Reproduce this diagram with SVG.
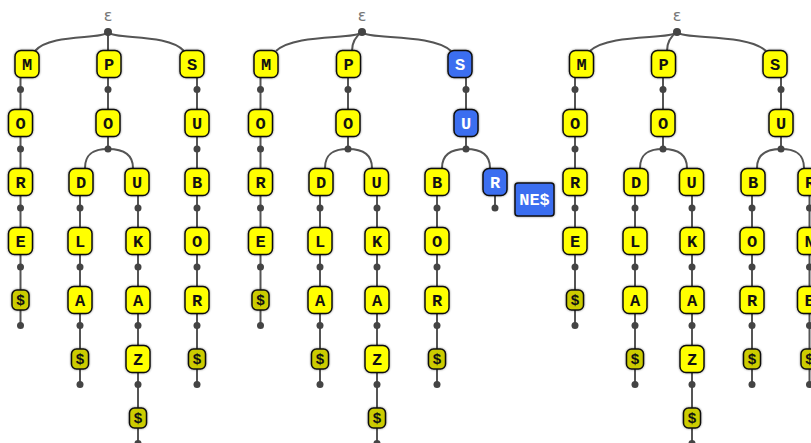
<svg xmlns="http://www.w3.org/2000/svg" width="811" height="443" viewBox="0 0 811 443">
<defs>
<filter id="sh" x="-30%" y="-30%" width="160%" height="160%">
<feDropShadow dx="0" dy="0" stdDeviation="1" flood-color="#000" flood-opacity="0.45"/>
</filter>
</defs>
<style>
.c path{fill:none;stroke:#555;stroke-width:2}
.c circle{fill:#444}
.n rect{fill:#ffff00;stroke:#111;stroke-width:1.5;filter:url(#sh)}
.n.d rect{fill:#cccc00}
.n.b rect{fill:#3b6ef0}
.n text{font-family:"Liberation Mono","Courier New",monospace;font-weight:bold;font-size:17px;text-anchor:middle;fill:#111}
.n.d text{font-size:15px}
.n.b text{fill:#fff}
.eps{font-family:"DejaVu Sans",sans-serif;font-size:16px;fill:#777;text-anchor:middle}
</style>
<rect width="811" height="443" fill="#fff"/>
<g id="connectors" class="c">
<!-- tree 1 -->
<path d="M108,32 C103,40 50,33 35,51"/>
<path d="M108,32 L108,64"/>
<path d="M108,32 C113,40 168,33 184,51"/>
<path d="M20.5,64 V325.5"/>
<path d="M108,64 V149"/>
<path d="M108,149 C96,149 85,152 85,168"/>
<path d="M108,149 C120,149 133,152 133,168"/>
<path d="M80,182 V384.5"/>
<path d="M138,182 V443.5"/>
<path d="M197,64 V384.5"/>
<!-- tree 2 -->
<path d="M362,32 C357,40 295,33 276,51"/>
<path d="M362,32 C356,36 352,42 352,51"/>
<path d="M362,32 C367,40 432,33 451,51"/>
<path d="M260.5,64 V325.5"/>
<path d="M348,64 V149"/>
<path d="M348,149 C336,149 325,152 325,168"/>
<path d="M348,149 C360,149 372,152 372,168"/>
<path d="M320,182 V384.5"/>
<path d="M377,182 V443.5"/>
<path d="M466,64 V149"/>
<path d="M466,149 C454,149 442,152 442,168"/>
<path d="M466,149 C478,149 490,152 490,168"/>
<path d="M437,182 V384.5"/>
<path d="M495,182 V208"/>
<!-- tree 3 -->
<path d="M677,32 C672,40 609,33 590,51"/>
<path d="M677,32 C671,36 667,42 667,51"/>
<path d="M677,32 C682,40 747,33 766,51"/>
<path d="M575,64 V325.5"/>
<path d="M663,64 V149"/>
<path d="M663,149 C651,149 640,152 640,168"/>
<path d="M663,149 C675,149 687,152 687,168"/>
<path d="M635,182 V384.5"/>
<path d="M692,182 V443.5"/>
<path d="M781,64 V149"/>
<path d="M781,149 C769,149 757,152 757,168"/>
<path d="M781,149 C793,149 804,152 804,168"/>
<path d="M752,182 V384.5"/>
<path d="M809.5,182 V384.5"/>
<!-- dots tree 1 -->
<circle cx="108" cy="32" r="4"/>
<circle cx="20.5" cy="89.5" r="3.5"/><circle cx="20.5" cy="149" r="3.5"/><circle cx="20.5" cy="208" r="3.5"/><circle cx="20.5" cy="267" r="3.5"/><circle cx="20.5" cy="325.5" r="3.5"/>
<circle cx="108" cy="89.5" r="3.5"/><circle cx="108" cy="149" r="3.5"/>
<circle cx="80" cy="208" r="3.5"/><circle cx="80" cy="267" r="3.5"/><circle cx="80" cy="325.5" r="3.5"/><circle cx="80" cy="384.5" r="3.5"/>
<circle cx="138" cy="208" r="3.5"/><circle cx="138" cy="267" r="3.5"/><circle cx="138" cy="325.5" r="3.5"/><circle cx="138" cy="384.5" r="3.5"/><circle cx="138" cy="443.5" r="3.5"/>
<circle cx="197" cy="89.5" r="3.5"/><circle cx="197" cy="149" r="3.5"/><circle cx="197" cy="208" r="3.5"/><circle cx="197" cy="267" r="3.5"/><circle cx="197" cy="325.5" r="3.5"/><circle cx="197" cy="384.5" r="3.5"/>
<!-- dots tree 2 -->
<circle cx="362" cy="32" r="4"/>
<circle cx="260.5" cy="89.5" r="3.5"/><circle cx="260.5" cy="149" r="3.5"/><circle cx="260.5" cy="208" r="3.5"/><circle cx="260.5" cy="267" r="3.5"/><circle cx="260.5" cy="325.5" r="3.5"/>
<circle cx="348" cy="89.5" r="3.5"/><circle cx="348" cy="149" r="3.5"/>
<circle cx="320" cy="208" r="3.5"/><circle cx="320" cy="267" r="3.5"/><circle cx="320" cy="325.5" r="3.5"/><circle cx="320" cy="384.5" r="3.5"/>
<circle cx="377" cy="208" r="3.5"/><circle cx="377" cy="267" r="3.5"/><circle cx="377" cy="325.5" r="3.5"/><circle cx="377" cy="384.5" r="3.5"/><circle cx="377" cy="443.5" r="3.5"/>
<circle cx="466" cy="89.5" r="3.5"/><circle cx="466" cy="149" r="3.5"/>
<circle cx="437" cy="208" r="3.5"/><circle cx="437" cy="267" r="3.5"/><circle cx="437" cy="325.5" r="3.5"/><circle cx="437" cy="384.5" r="3.5"/>
<circle cx="495" cy="208" r="3.5"/>
<!-- dots tree 3 -->
<circle cx="677" cy="32" r="4"/>
<circle cx="575" cy="89.5" r="3.5"/><circle cx="575" cy="149" r="3.5"/><circle cx="575" cy="208" r="3.5"/><circle cx="575" cy="267" r="3.5"/><circle cx="575" cy="325.5" r="3.5"/>
<circle cx="663" cy="89.5" r="3.5"/><circle cx="663" cy="149" r="3.5"/>
<circle cx="635" cy="208" r="3.5"/><circle cx="635" cy="267" r="3.5"/><circle cx="635" cy="325.5" r="3.5"/><circle cx="635" cy="384.5" r="3.5"/>
<circle cx="692" cy="208" r="3.5"/><circle cx="692" cy="267" r="3.5"/><circle cx="692" cy="325.5" r="3.5"/><circle cx="692" cy="384.5" r="3.5"/><circle cx="692" cy="443.5" r="3.5"/>
<circle cx="781" cy="89.5" r="3.5"/><circle cx="781" cy="149" r="3.5"/>
<circle cx="752" cy="208" r="3.5"/><circle cx="752" cy="267" r="3.5"/><circle cx="752" cy="325.5" r="3.5"/><circle cx="752" cy="384.5" r="3.5"/>
<circle cx="809.5" cy="208" r="3.5"/><circle cx="809.5" cy="267" r="3.5"/><circle cx="809.5" cy="325.5" r="3.5"/><circle cx="809.5" cy="384.5" r="3.5"/>
</g>
<text class="eps" x="108" y="21">ε</text>
<text class="eps" x="362" y="21">ε</text>
<text class="eps" x="677" y="21">ε</text>
<!-- Tree 1 nodes -->
<g id="t1-M" class="n"><rect x="15" y="50.5" width="24" height="27" rx="6"/><text x="27" y="69.5">M</text></g>
<g id="t1-MO" class="n"><rect x="8.5" y="109.5" width="24" height="27" rx="6"/><text x="20.5" y="128.5">O</text></g>
<g id="t1-MR" class="n"><rect x="8.5" y="168.5" width="24" height="27" rx="6"/><text x="20.5" y="187.5">R</text></g>
<g id="t1-ME" class="n"><rect x="8.5" y="227.5" width="24" height="27" rx="6"/><text x="20.5" y="246.5">E</text></g>
<g id="t1-M$" class="n d"><rect x="12" y="290" width="17" height="20" rx="5"/><text x="20.5" y="305">$</text></g>
<g id="t1-P" class="n"><rect x="97" y="50.5" width="24" height="27" rx="6"/><text x="109" y="69.5">P</text></g>
<g id="t1-PO" class="n"><rect x="96" y="109.5" width="24" height="27" rx="6"/><text x="108" y="128.5">O</text></g>
<g id="t1-D" class="n"><rect x="69" y="168.5" width="24" height="27" rx="6"/><text x="81" y="187.5">D</text></g>
<g id="t1-L" class="n"><rect x="68" y="227.5" width="24" height="27" rx="6"/><text x="80" y="246.5">L</text></g>
<g id="t1-DA" class="n"><rect x="68" y="286.5" width="24" height="27" rx="6"/><text x="80" y="305.5">A</text></g>
<g id="t1-D$" class="n d"><rect x="71.5" y="349" width="17" height="20" rx="5"/><text x="80" y="364">$</text></g>
<g id="t1-U" class="n"><rect x="125" y="168.5" width="24" height="27" rx="6"/><text x="137" y="187.5">U</text></g>
<g id="t1-K" class="n"><rect x="126" y="227.5" width="24" height="27" rx="6"/><text x="138" y="246.5">K</text></g>
<g id="t1-UA" class="n"><rect x="126" y="286.5" width="24" height="27" rx="6"/><text x="138" y="305.5">A</text></g>
<g id="t1-Z" class="n"><rect x="126" y="345.5" width="24" height="27" rx="6"/><text x="138" y="364.5">Z</text></g>
<g id="t1-U$" class="n d"><rect x="129.5" y="408" width="17" height="20" rx="5"/><text x="138" y="423">$</text></g>
<g id="t1-S" class="n"><rect x="180" y="50.5" width="24" height="27" rx="6"/><text x="192" y="69.5">S</text></g>
<g id="t1-SU" class="n"><rect x="185" y="109.5" width="24" height="27" rx="6"/><text x="197" y="128.5">U</text></g>
<g id="t1-B" class="n"><rect x="185" y="168.5" width="24" height="27" rx="6"/><text x="197" y="187.5">B</text></g>
<g id="t1-BO" class="n"><rect x="185" y="227.5" width="24" height="27" rx="6"/><text x="197" y="246.5">O</text></g>
<g id="t1-BR" class="n"><rect x="185" y="286.5" width="24" height="27" rx="6"/><text x="197" y="305.5">R</text></g>
<g id="t1-S$" class="n d"><rect x="188.5" y="349" width="17" height="20" rx="5"/><text x="197" y="364">$</text></g>
<!-- Tree 2 nodes -->
<g id="t2-M" class="n"><rect x="254" y="50.5" width="24" height="27" rx="6"/><text x="266" y="69.5">M</text></g>
<g id="t2-MO" class="n"><rect x="248.5" y="109.5" width="24" height="27" rx="6"/><text x="260.5" y="128.5">O</text></g>
<g id="t2-MR" class="n"><rect x="248.5" y="168.5" width="24" height="27" rx="6"/><text x="260.5" y="187.5">R</text></g>
<g id="t2-ME" class="n"><rect x="248.5" y="227.5" width="24" height="27" rx="6"/><text x="260.5" y="246.5">E</text></g>
<g id="t2-M$" class="n d"><rect x="252" y="290" width="17" height="20" rx="5"/><text x="260.5" y="305">$</text></g>
<g id="t2-P" class="n"><rect x="336.5" y="50.5" width="24" height="27" rx="6"/><text x="348.5" y="69.5">P</text></g>
<g id="t2-PO" class="n"><rect x="336" y="109.5" width="24" height="27" rx="6"/><text x="348" y="128.5">O</text></g>
<g id="t2-D" class="n"><rect x="309" y="168.5" width="24" height="27" rx="6"/><text x="321" y="187.5">D</text></g>
<g id="t2-L" class="n"><rect x="308" y="227.5" width="24" height="27" rx="6"/><text x="320" y="246.5">L</text></g>
<g id="t2-DA" class="n"><rect x="308" y="286.5" width="24" height="27" rx="6"/><text x="320" y="305.5">A</text></g>
<g id="t2-D$" class="n d"><rect x="311.5" y="349" width="17" height="20" rx="5"/><text x="320" y="364">$</text></g>
<g id="t2-U" class="n"><rect x="364.5" y="168.5" width="24" height="27" rx="6"/><text x="376.5" y="187.5">U</text></g>
<g id="t2-K" class="n"><rect x="365" y="227.5" width="24" height="27" rx="6"/><text x="377" y="246.5">K</text></g>
<g id="t2-UA" class="n"><rect x="365" y="286.5" width="24" height="27" rx="6"/><text x="377" y="305.5">A</text></g>
<g id="t2-Z" class="n"><rect x="365" y="345.5" width="24" height="27" rx="6"/><text x="377" y="364.5">Z</text></g>
<g id="t2-U$" class="n d"><rect x="368.5" y="408" width="17" height="20" rx="5"/><text x="377" y="423">$</text></g>
<g id="t2-S" class="n b"><rect x="448" y="50.5" width="24" height="27" rx="6"/><text x="460" y="69.5">S</text></g>
<g id="t2-SU" class="n b"><rect x="454" y="109.5" width="24" height="27" rx="6"/><text x="466" y="128.5">U</text></g>
<g id="t2-B" class="n"><rect x="425" y="168.5" width="24" height="27" rx="6"/><text x="437" y="187.5">B</text></g>
<g id="t2-BO" class="n"><rect x="425" y="227.5" width="24" height="27" rx="6"/><text x="437" y="246.5">O</text></g>
<g id="t2-BR" class="n"><rect x="425" y="286.5" width="24" height="27" rx="6"/><text x="437" y="305.5">R</text></g>
<g id="t2-B$" class="n d"><rect x="428.5" y="349" width="17" height="20" rx="5"/><text x="437" y="364">$</text></g>
<g id="t2-R" class="n b"><rect x="483" y="168.5" width="24" height="27" rx="6"/><text x="495" y="187.5">R</text></g>
<g id="t2-NE" class="n b"><rect x="515" y="183" width="39" height="33" rx="3"/><text x="534.5" y="205">NE$</text></g>
<!-- Tree 3 nodes -->
<g id="t3-M" class="n"><rect x="569.5" y="50.5" width="24" height="27" rx="6"/><text x="581.5" y="69.5">M</text></g>
<g id="t3-MO" class="n"><rect x="563" y="109.5" width="24" height="27" rx="6"/><text x="575" y="128.5">O</text></g>
<g id="t3-MR" class="n"><rect x="563" y="168.5" width="24" height="27" rx="6"/><text x="575" y="187.5">R</text></g>
<g id="t3-ME" class="n"><rect x="563" y="227.5" width="24" height="27" rx="6"/><text x="575" y="246.5">E</text></g>
<g id="t3-M$" class="n d"><rect x="566.5" y="290" width="17" height="20" rx="5"/><text x="575" y="305">$</text></g>
<g id="t3-P" class="n"><rect x="651.5" y="50.5" width="24" height="27" rx="6"/><text x="663.5" y="69.5">P</text></g>
<g id="t3-PO" class="n"><rect x="651" y="109.5" width="24" height="27" rx="6"/><text x="663" y="128.5">O</text></g>
<g id="t3-D" class="n"><rect x="624" y="168.5" width="24" height="27" rx="6"/><text x="636" y="187.5">D</text></g>
<g id="t3-L" class="n"><rect x="623" y="227.5" width="24" height="27" rx="6"/><text x="635" y="246.5">L</text></g>
<g id="t3-DA" class="n"><rect x="623" y="286.5" width="24" height="27" rx="6"/><text x="635" y="305.5">A</text></g>
<g id="t3-D$" class="n d"><rect x="626.5" y="349" width="17" height="20" rx="5"/><text x="635" y="364">$</text></g>
<g id="t3-U" class="n"><rect x="679.5" y="168.5" width="24" height="27" rx="6"/><text x="691.5" y="187.5">U</text></g>
<g id="t3-K" class="n"><rect x="680" y="227.5" width="24" height="27" rx="6"/><text x="692" y="246.5">K</text></g>
<g id="t3-UA" class="n"><rect x="680" y="286.5" width="24" height="27" rx="6"/><text x="692" y="305.5">A</text></g>
<g id="t3-Z" class="n"><rect x="680" y="345.5" width="24" height="27" rx="6"/><text x="692" y="364.5">Z</text></g>
<g id="t3-U$" class="n d"><rect x="683.5" y="408" width="17" height="20" rx="5"/><text x="692" y="423">$</text></g>
<g id="t3-S" class="n"><rect x="763" y="50.5" width="24" height="27" rx="6"/><text x="775" y="69.5">S</text></g>
<g id="t3-SU" class="n"><rect x="769" y="109.5" width="24" height="27" rx="6"/><text x="781" y="128.5">U</text></g>
<g id="t3-B" class="n"><rect x="741" y="168.5" width="24" height="27" rx="6"/><text x="753" y="187.5">B</text></g>
<g id="t3-BO" class="n"><rect x="740" y="227.5" width="24" height="27" rx="6"/><text x="752" y="246.5">O</text></g>
<g id="t3-BR" class="n"><rect x="740" y="286.5" width="24" height="27" rx="6"/><text x="752" y="305.5">R</text></g>
<g id="t3-B$" class="n d"><rect x="743.5" y="349" width="17" height="20" rx="5"/><text x="752" y="364">$</text></g>
<g id="t3-R" class="n"><rect x="798" y="168.5" width="24" height="27" rx="6"/><text x="810" y="187.5">R</text></g>
<g id="t3-N" class="n"><rect x="797.5" y="227.5" width="24" height="27" rx="6"/><text x="809.5" y="246.5">N</text></g>
<g id="t3-E" class="n"><rect x="797.5" y="286.5" width="24" height="27" rx="6"/><text x="809.5" y="305.5">E</text></g>
<g id="t3-R$" class="n d"><rect x="801" y="349" width="17" height="20" rx="5"/><text x="809.5" y="364">$</text></g>
</svg>
